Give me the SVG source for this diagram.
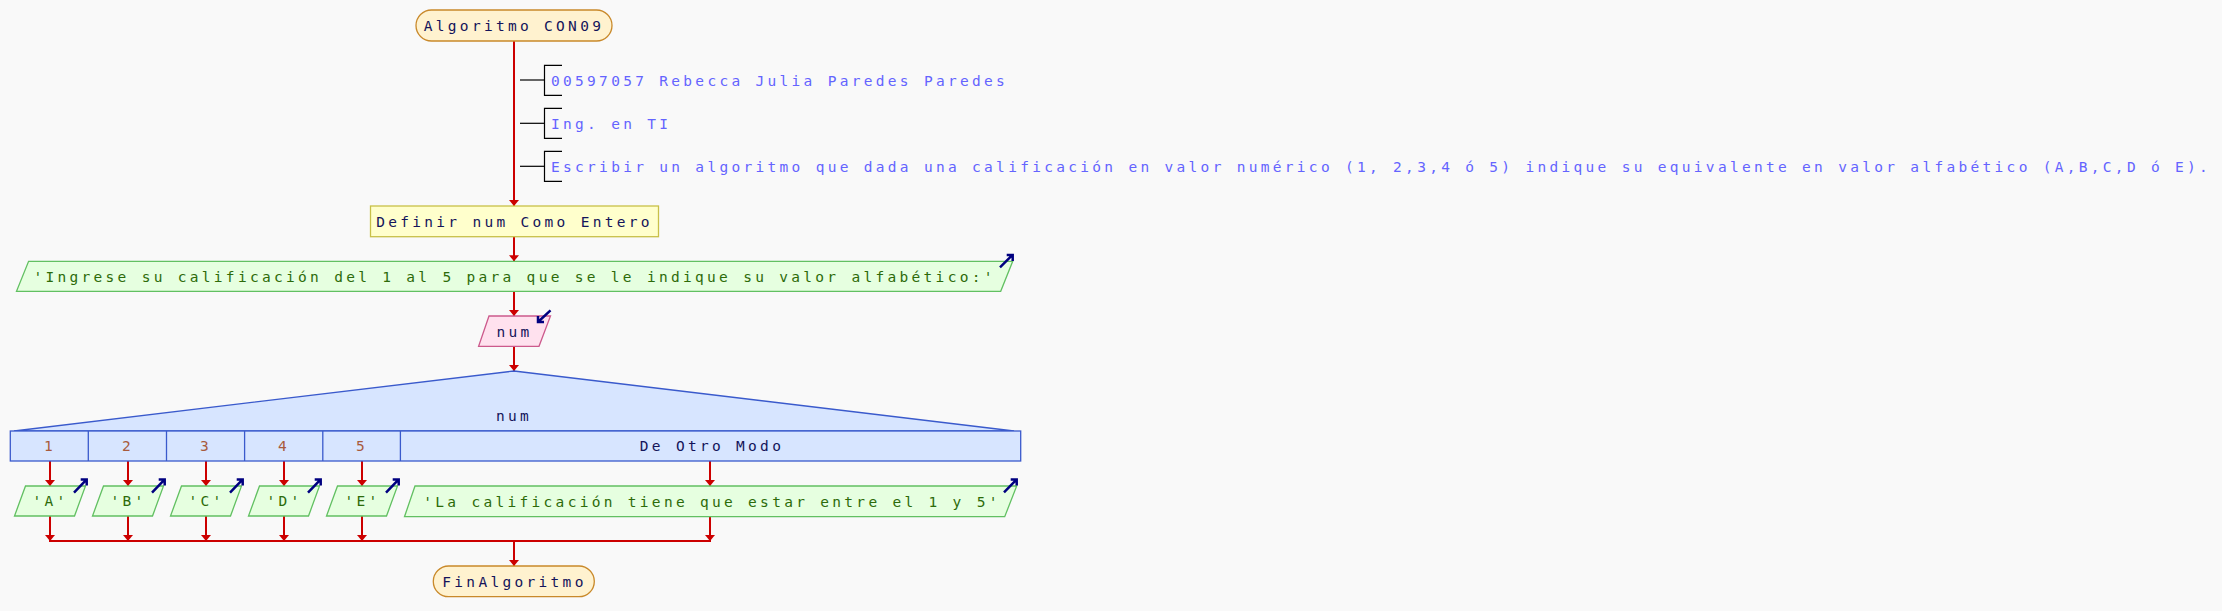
<svg xmlns="http://www.w3.org/2000/svg" width="2222" height="611" viewBox="0 0 2222 611">
<style>
text{font-family:"DejaVu Sans Mono","Liberation Mono",monospace;font-size:14.5px;letter-spacing:3.3px}
.mid{text-anchor:middle}
.term{fill:#fff2cf;stroke:#c9892a;stroke-width:1.3}
.def{fill:#ffffcc;stroke:#c8c048;stroke-width:1.3}
.out{fill:#e6ffe0;stroke:#62c062;stroke-width:1.3}
.inp{fill:#ffe1ee;stroke:#cc5a8c;stroke-width:1.3}
.sw{fill:#d7e5ff;stroke:#3a5acc;stroke-width:1.3}
.tk{fill:#14145a}
.tc{fill:#6464ff}
.to{fill:#2d6b0a}
.tn{fill:#a85a3c}
.br{fill:none;stroke:#000;stroke-width:1.2}
.ico{fill:none;stroke:#000080;stroke-width:2.5}
.flow{fill:none;stroke:#cc0000;stroke-width:2}
</style>
<defs>
<marker id="ah" viewBox="0 0 6 10" refX="6" refY="5" markerWidth="6" markerHeight="10" markerUnits="userSpaceOnUse" orient="auto">
<path d="M0,0 L6,5 L0,10 z" fill="#cc0000"/>
</marker>
</defs>
<rect x="0" y="0" width="2222" height="611" fill="#f9f9f9"/>

<g id="connectors">
<line class="flow" x1="514" y1="41" x2="514" y2="206" marker-end="url(#ah)"/>
<line class="flow" x1="514" y1="237" x2="514" y2="261.3" marker-end="url(#ah)"/>
<line class="flow" x1="514" y1="291.3" x2="514" y2="316" marker-end="url(#ah)"/>
<line class="flow" x1="514" y1="346.3" x2="514" y2="371" marker-end="url(#ah)"/>
<line class="flow" x1="50" y1="461" x2="50" y2="486" marker-end="url(#ah)"/>
<line class="flow" x1="128" y1="461" x2="128" y2="486" marker-end="url(#ah)"/>
<line class="flow" x1="206" y1="461" x2="206" y2="486" marker-end="url(#ah)"/>
<line class="flow" x1="284" y1="461" x2="284" y2="486" marker-end="url(#ah)"/>
<line class="flow" x1="362" y1="461" x2="362" y2="486" marker-end="url(#ah)"/>
<line class="flow" x1="710" y1="461" x2="710" y2="486" marker-end="url(#ah)"/>
<line class="flow" x1="50" y1="516" x2="50" y2="541" marker-end="url(#ah)"/>
<line class="flow" x1="128" y1="516" x2="128" y2="541" marker-end="url(#ah)"/>
<line class="flow" x1="206" y1="516" x2="206" y2="541" marker-end="url(#ah)"/>
<line class="flow" x1="284" y1="516" x2="284" y2="541" marker-end="url(#ah)"/>
<line class="flow" x1="362" y1="516" x2="362" y2="541" marker-end="url(#ah)"/>
<line class="flow" x1="710" y1="516.7" x2="710" y2="541" marker-end="url(#ah)"/>
<line class="flow" x1="49" y1="541" x2="711" y2="541"/>
<line class="flow" x1="514" y1="541" x2="514" y2="566" marker-end="url(#ah)"/>
</g>

<g id="start">
<rect class="term" x="416" y="10" width="196" height="31" rx="15.5"/>
<text class="tk mid" x="514" y="31">Algoritmo CON09</text>
</g>

<g id="comment1">
<line class="br" x1="520" y1="80" x2="544.5" y2="80"/>
<path class="br" d="M562,65.3 H544.5 V95.3 H562"/>
<text class="tc" x="551" y="85.5">00597057 Rebecca Julia Paredes Paredes</text>
</g>
<g id="comment2">
<line class="br" x1="520" y1="123.3" x2="544.5" y2="123.3"/>
<path class="br" d="M562,108.3 H544.5 V138.3 H562"/>
<text class="tc" x="551" y="128.8">Ing. en TI</text>
</g>
<g id="comment3">
<line class="br" x1="520" y1="166.3" x2="544.5" y2="166.3"/>
<path class="br" d="M562,151.3 H544.5 V181.3 H562"/>
<text class="tc" x="551" y="171.8">Escribir un algoritmo que dada una calificación en valor numérico (1, 2,3,4 ó 5) indique su equivalente en valor alfabético (A,B,C,D ó E).</text>
</g>

<g id="define">
<rect class="def" x="370.5" y="206" width="288" height="30.7"/>
<text class="tk mid" x="514.5" y="226.5">Definir num Como Entero</text>
</g>

<g id="prompt">
<polygon class="out" points="28.6,261.3 1012.7,261.3 1000.7,291.3 16.5,291.3"/>
<text class="to mid" x="514.6" y="281.6">'Ingrese su calificación del 1 al 5 para que se le indique su valor alfabético:'</text>
<path class="ico" d="M1000,267.3 L1012.7,254.7 M1006.7,254.9 H1012.7 V260.9"/>
</g>

<g id="read">
<polygon class="inp" points="489,316 550.5,316 539,346.3 478.6,346.3"/>
<text class="tk mid" x="514.5" y="336.6">num</text>
<path class="ico" d="M550.5,310.3 L538,322 M538,316 V322 H544"/>
</g>

<g id="switch">
<polygon class="sw" points="514,371 1014,431 14,431"/>
<rect class="sw" x="10.3" y="431" width="1010.4" height="30"/>
<line class="sw" x1="88.3" y1="431" x2="88.3" y2="461"/>
<line class="sw" x1="166.5" y1="431" x2="166.5" y2="461"/>
<line class="sw" x1="244.6" y1="431" x2="244.6" y2="461"/>
<line class="sw" x1="322.8" y1="431" x2="322.8" y2="461"/>
<line class="sw" x1="400.4" y1="431" x2="400.4" y2="461"/>
<text class="tk mid" x="514" y="421.3">num</text>
<text class="tn mid" x="50" y="451.3">1</text>
<text class="tn mid" x="128" y="451.3">2</text>
<text class="tn mid" x="206" y="451.3">3</text>
<text class="tn mid" x="284" y="451.3">4</text>
<text class="tn mid" x="362" y="451.3">5</text>
<text class="tk mid" x="712" y="451.3">De Otro Modo</text>
</g>

<g id="outA">
<polygon class="out" points="25.5,486 85.5,486 74.5,516 14.5,516"/>
<text class="to mid" x="50.5" y="506.3">'A'</text>
<path class="ico" d="M74,492.7 L86.7,479.3 M80.7,479.5 H86.7 V485.5"/>
</g>
<g id="outB">
<polygon class="out" points="103.5,486 163.5,486 152.5,516 92.5,516"/>
<text class="to mid" x="128.5" y="506.3">'B'</text>
<path class="ico" d="M152,492.7 L164.7,479.3 M158.7,479.5 H164.7 V485.5"/>
</g>
<g id="outC">
<polygon class="out" points="181.5,486 241.5,486 230.5,516 170.5,516"/>
<text class="to mid" x="206.5" y="506.3">'C'</text>
<path class="ico" d="M230,492.7 L242.7,479.3 M236.7,479.5 H242.7 V485.5"/>
</g>
<g id="outD">
<polygon class="out" points="259.5,486 319.5,486 308.5,516 248.5,516"/>
<text class="to mid" x="284.5" y="506.3">'D'</text>
<path class="ico" d="M308,492.7 L320.7,479.3 M314.7,479.5 H320.7 V485.5"/>
</g>
<g id="outE">
<polygon class="out" points="337.5,486 397.5,486 386.5,516 326.5,516"/>
<text class="to mid" x="362.5" y="506.3">'E'</text>
<path class="ico" d="M386,492.7 L398.7,479.3 M392.7,479.5 H398.7 V485.5"/>
</g>
<g id="outOther">
<polygon class="out" points="415,486 1016.7,486 1004.7,516.7 404.5,516.7"/>
<text class="to mid" x="712" y="506.6">'La calificación tiene que estar entre el 1 y 5'</text>
<path class="ico" d="M1004,492.3 L1016.7,479.3 M1010.7,479.5 H1016.7 V485.5"/>
</g>

<g id="end">
<rect class="term" x="433.3" y="566" width="161" height="30.7" rx="15.3"/>
<text class="tk mid" x="514.5" y="586.6">FinAlgoritmo</text>
</g>
</svg>
